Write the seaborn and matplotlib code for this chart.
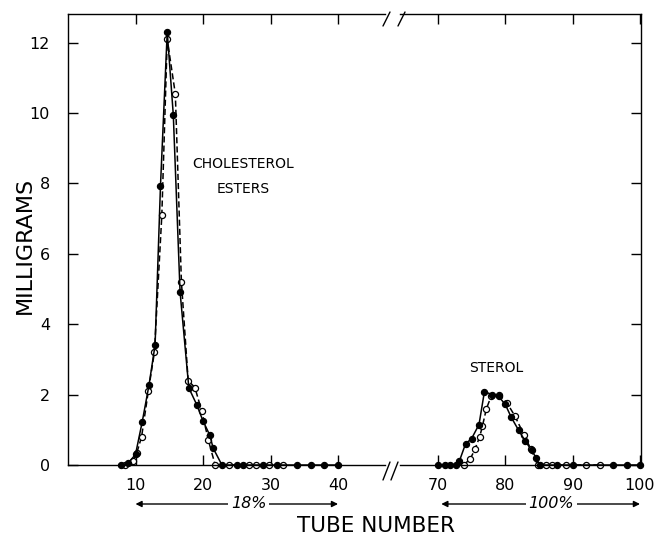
import matplotlib
matplotlib.use("Agg")
import matplotlib.pyplot as plt
import matplotlib.transforms as mtransforms
import seaborn as sns
from matplotlib.lines import Line2D

# cholesterol ester peak (18% eluent) - filled / open circles
esters_tube_filled = [7.8, 8.9, 10.0, 11.0, 12.0, 12.9, 13.7, 14.7, 15.6, 16.6, 17.9, 19.1, 20.0, 21.0, 21.5,
                      22.8, 25.0, 25.9, 28.9, 31.0, 33.9, 36.0, 37.9, 40.0]
esters_mg_filled = [0.0, 0.05, 0.3, 1.23, 2.27, 3.41, 7.93, 12.3, 9.94, 4.92, 2.19, 1.7, 1.25, 0.85, 0.48,
                    0.0, 0.0, 0.0, 0.0, 0.0, 0.0, 0.0, 0.0, 0.0]
esters_tube_open = [8.5, 9.6, 10.2, 10.9, 11.9, 12.8, 13.9, 14.7, 15.9, 16.8, 17.8, 18.8, 19.8, 20.8, 21.8,
                    23.9, 26.8, 27.9, 29.8, 31.9]
esters_mg_open = [0.0, 0.1, 0.35, 0.8, 2.1, 3.2, 7.1, 12.09, 10.54, 5.2, 2.4, 2.2, 1.54, 0.7, 0.0,
                  0.0, 0.0, 0.0, 0.0, 0.0]

# sterol peak (100% eluent)
sterol_tube_filled = [70.0, 71.0, 71.8, 72.7, 73.2, 74.1, 75.0, 76.1, 76.9, 78.1, 79.0, 80.0, 80.9, 82.0,
                      83.0, 83.9, 84.6, 85.1, 87.7, 90.0, 96.0, 98.0, 100.0]
sterol_mg_filled = [0.0, 0.0, 0.0, 0.0, 0.12, 0.6, 0.75, 1.15, 2.08, 2.0, 1.95, 1.72, 1.35, 0.98,
                    0.67, 0.42, 0.2, 0.0, 0.0, 0.0, 0.0, 0.0, 0.0]
sterol_tube_open = [73.8, 74.8, 75.5, 76.2, 76.6, 77.2, 77.9, 79.1, 80.3, 81.4, 82.8, 83.8, 84.8,
                    86.1, 87.0, 89.0, 92.0, 94.0]
sterol_mg_open = [0.0, 0.17, 0.45, 0.8, 1.1, 1.6, 1.95, 2.0, 1.75, 1.4, 0.85, 0.45, 0.0,
                  0.0, 0.0, 0.0, 0.0, 0.0]

y_ticks = [0, 2, 4, 6, 8, 10, 12]
x_ticks_left = [10, 20, 30, 40]
x_ticks_right = [70, 80, 90, 100]

sns.set_style("ticks")
plt.rcParams["font.family"] = ["DejaVu Sans"]
for key in ["text.color", "axes.edgecolor", "axes.labelcolor", "xtick.color", "ytick.color"]:
    plt.rcParams[key] = "black"

W, H = 659, 543
fig = plt.figure(figsize=(W / 100, H / 100), dpi=100)


def fx(px):
    return px / W


def fy(py):
    return 1 - py / H


bottom, top = fy(465), fy(14)
ax1 = fig.add_axes([fx(68), bottom, fx(385) - fx(68), top - bottom])
ax2 = fig.add_axes([fx(400), bottom, fx(641) - fx(400), top - bottom], sharey=ax1)


def draw(ax, tubes, mg, filled):
    sns.lineplot(x=tubes, y=mg, ax=ax, color="black", lw=1.1,
                 linestyle="-" if filled else (0, (4, 2)),
                 marker="o", markersize=4.4,
                 markerfacecolor="black" if filled else "white",
                 markeredgecolor="black", markeredgewidth=0.9,
                 estimator=None, sort=False, clip_on=False)


draw(ax1, esters_tube_open, esters_mg_open, False)
draw(ax1, esters_tube_filled, esters_mg_filled, True)
draw(ax2, sterol_tube_open, sterol_mg_open, False)
draw(ax2, sterol_tube_filled, sterol_mg_filled, True)

ax1.set_xlim(0, 46.96)
ax2.set_xlim(64.37, 100.15)
ax1.set_ylim(0, 12.81)
ax1.set_yticks(y_ticks)
ax1.set_xticks(x_ticks_left)
ax2.set_xticks(x_ticks_right)

for ax in (ax1, ax2):
    for s in ax.spines.values():
        s.set_linewidth(1.0)
    ax.tick_params(direction="in", length=7, width=1.0, labelsize=11.5, top=True, bottom=True)
    ax.tick_params(axis="x", pad=9)
    ax.set_xlabel("")
    ax.set_ylabel("")

ax1.spines["right"].set_visible(False)
ax1.tick_params(axis="y", left=True, right=False, pad=13)
ax2.spines["left"].set_visible(False)
ax2.tick_params(axis="y", left=False, right=True, labelleft=False)

# axis break marks
for (x0, y0), (x1, y1) in [((383, 480), (390, 462)), ((391, 480), (398, 462)),
                           ((383, 26), (390, 12)), ((398, 26), (405, 12))]:
    fig.add_artist(Line2D([fx(x0), fx(x1)], [fy(y0), fy(y1)], transform=fig.transFigure,
                          color="black", lw=1.0))

# labels
ax1.text(25.9, 8.2, "CHOLESTEROL\nESTERS", ha="center", va="center", fontsize=10,
         multialignment="center", linespacing=2.0)
ax2.text(78.7, 2.75, "STEROL", ha="center", va="center", fontsize=10)

fig.text(fx(25), fy(245), "MILLIGRAMS", rotation=90, ha="center", va="center", fontsize=16)
fig.text(fx(376), fy(526), "TUBE NUMBER", ha="center", va="center", fontsize=15.5)

# eluent arrows
arrow = dict(arrowstyle="<|-|>", color="black", lw=1.0, mutation_scale=9, shrinkA=0, shrinkB=0)
y_arr = fy(504)
for ax, x0, x1, xt, label in [(ax1, 10, 40, 26.8, "18%"), (ax2, 70.5, 100, 86.8, "100%")]:
    ax.annotate("", xy=(x0, y_arr), xytext=(x1, y_arr), xycoords=("data", "figure fraction"),
                textcoords=("data", "figure fraction"), arrowprops=arrow, annotation_clip=False)
    ax.text(xt, y_arr, label,
            transform=mtransforms.blended_transform_factory(ax.transData, fig.transFigure),
            ha="center", va="center", fontsize=11.5, style="italic",
            bbox=dict(facecolor="white", edgecolor="none", pad=2))

fig.savefig("out.png", dpi=100)
